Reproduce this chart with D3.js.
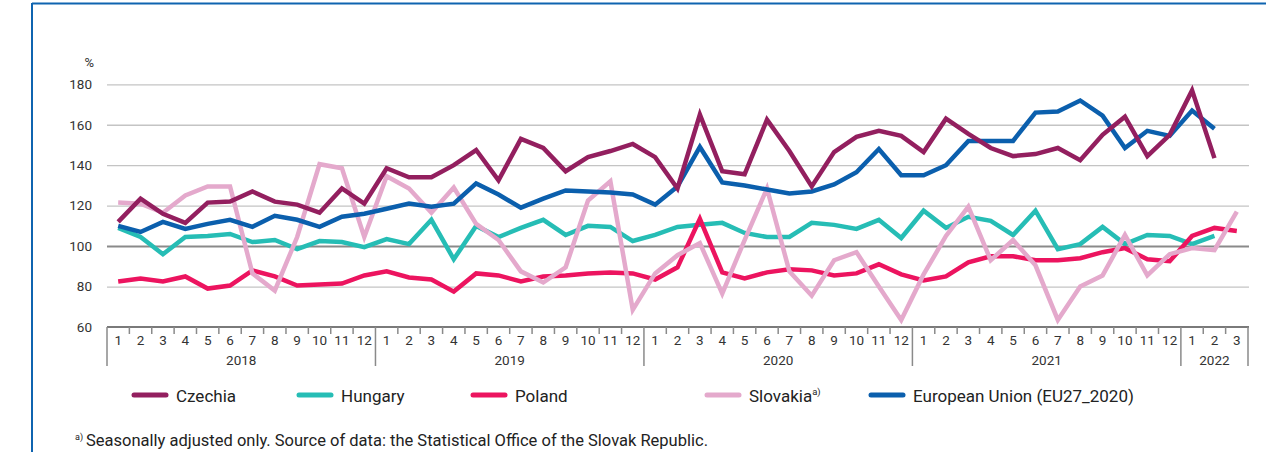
<!DOCTYPE html>
<html>
<head>
<meta charset="utf-8">
<script src="https://cdn.jsdelivr.net/npm/d3@7"></script>
<style>
  body { margin: 0; background: #fff; }
  svg { display: block; font-family: "Roboto", sans-serif; }
</style>
</head>
<body>
<svg width="1266" height="452"></svg>
<script>
// months covered: Jan 2018 .. Mar 2022
var years = [2018, 2019, 2020, 2021, 2022];
var monthsPerYear = [12, 12, 12, 12, 3];
var yTicks = [60, 80, 100, 120, 140, 160, 180];

var czechia = [112, 123.5, 116, 111.5, 121.5, 122, 127, 122, 120.5, 116.5, 128.5, 121,
               138.5, 134, 134, 140, 147.5, 132.5, 153, 148.5, 137, 144, 147, 150.5,
               144, 128.5, 165, 137, 135.5, 162.5, 147, 129.5, 146.5, 154, 157, 154.5,
               146.5, 163, 155.5, 148.5, 144.5, 145.5, 148.5, 142.5, 155, 164, 144.5, 155,
               177, 143.5, null];
var hungary = [109, 104.5, 96, 104.5, 105, 106, 102, 103, 98.5, 102.5, 102, 99.5,
               103.5, 101, 113, 93.5, 110, 104.5, 109, 113, 105.5, 110, 109.5, 102.5,
               105.5, 109.5, 110.5, 111.5, 106.5, 104.5, 104.5, 111.5, 110.5, 108.5, 113, 104,
               117.5, 109, 114.5, 112.5, 105.5, 117.5, 98.5, 101, 109.5, 101, 105.5, 105,
               101, 105, null];
var poland = [82.5, 84, 82.5, 85, 79, 80.5, 88, 85, 80.5, 81, 81.5, 85.5,
              87.5, 84.5, 83.5, 77.5, 86.5, 85.5, 82.5, 85, 85.5, 86.5, 87, 86.5,
              83.5, 89.5, 113.5, 87, 84, 87, 88.5, 88, 85.5, 86.5, 91, 86,
              83, 85, 92, 95, 95, 93, 93, 94, 97, 99, 93.5, 92.5,
              105, 109, 107.5];
var slovakia = [121.5, 121, 116.5, 125, 129.5, 129.5, 86.5, 78, 104.5, 140.5, 138.5, 104.5,
                134.5, 128.5, 116.5, 129, 111, 103, 87.5, 82, 89.5, 122.5, 132, 68.5,
                86.5, 95.5, 101.5, 76.5, 103, 128.5, 87.5, 75.5, 93, 97, 80, 63.5,
                86, 105, 119.5, 93, 103, 90.5, 63.5, 80, 85.5, 105.5, 85.5, 96,
                99, 98, 117];
var eu = [110, 107, 112, 108.5, 111, 113, 109.5, 115, 113, 109.5, 114.5, 116,
          118.5, 121, 119.5, 121, 131, 125.5, 119, 123.5, 127.5, 127, 126.5, 125.5,
          120.5, 129.5, 149, 131.5, 130, 128, 126, 127, 130.5, 136.5, 148, 135,
          135, 140, 152, 152, 152, 166, 166.5, 172, 164.5, 148.5, 157, 154.5,
          167, 158, null];

var series = [
  {name: "Hungary", values: hungary, color: "#26bdb5"},
  {name: "Poland", values: poland, color: "#ec145f"},
  {name: "Slovakia", values: slovakia, color: "#e4a9cc"},
  {name: "European Union (EU27_2020)", values: eu, color: "#0b5fad"},
  {name: "Czechia", values: czechia, color: "#931f5f"}
];
var legendOrder = ["Czechia", "Hungary", "Poland", "Slovakia", "European Union (EU27_2020)"];
var legendX = [132, 297, 471, 705, 869];

// build month list
var months = [];
years.forEach(function(yr, k) {
  for (var m = 1; m <= monthsPerYear[k]; m++) months.push({year: yr, month: m, idx: months.length});
});

var svg = d3.select("svg");

// frame
svg.append("line").attr("x1", 32).attr("x2", 1266).attr("y1", 3.5).attr("y2", 3.5)
    .attr("stroke", "#0f64b0").attr("stroke-width", 2);
svg.append("line").attr("x1", 32).attr("x2", 32).attr("y1", 3).attr("y2", 452)
    .attr("stroke", "#0f64b0").attr("stroke-width", 2);

var x = d3.scaleBand().domain(months.map(function(d) { return d.idx; })).range([107, 1248]).padding(0);
var y = d3.scaleLinear().domain([60, 180]).range([327, 84.3]);
var cx = function(i) { return x(i) + x.bandwidth() / 2; };

// gridlines
var grid = svg.append("g").attr("transform", "translate(107,0)")
    .call(d3.axisLeft(y).tickValues(yTicks.slice(1)).tickSize(-(1249 - 107)).tickFormat(""));
grid.select(".domain").remove();
grid.selectAll(".tick line")
    .attr("stroke", function(d) { return d === 100 ? "#8a8a8a" : "#c4c4c4"; })
    .attr("stroke-width", function(d) { return d === 100 ? 2 : 1.3; });

// y labels
var yAxis = svg.append("g").attr("transform", "translate(95,0)")
    .call(d3.axisLeft(y).tickValues(yTicks).tickSize(0).tickPadding(3));
yAxis.select(".domain").remove();
yAxis.selectAll("text").style("font-size", "13.5px").style("fill", "#333")
    .style("font-family", "Roboto, sans-serif");
svg.append("text").attr("x", 94).attr("y", 67).attr("text-anchor", "end")
    .style("font-size", "13px").style("fill", "#333").text("%");

// x axis
var xAxis = svg.append("g").attr("transform", "translate(0,327)")
    .call(d3.axisBottom(x).tickSize(0).tickPadding(8)
      .tickFormat(function(i) { return months[i].month; }));
xAxis.select(".domain").remove();
xAxis.selectAll("text").style("font-size", "13.5px").style("fill", "#333")
    .style("font-family", "Roboto, sans-serif");

svg.append("line").attr("x1", 107).attr("x2", 1249).attr("y1", 327).attr("y2", 327)
    .attr("stroke", "#7a7a7a").attr("stroke-width", 2);

// small ticks between months, long ones between years
svg.append("g").selectAll("line")
  .data(months.concat([{idx: months.length, month: 1}]))
  .enter().append("line")
    .attr("x1", function(d) { return d.idx < months.length ? x(d.idx) : x.range()[1]; })
    .attr("x2", function(d) { return d.idx < months.length ? x(d.idx) : x.range()[1]; })
    .attr("y1", 327)
    .attr("y2", function(d) { return d.month === 1 ? 366 : 334; })
    .attr("stroke", "#8a8a8a").attr("stroke-width", 1.5);

// year labels
svg.append("g").selectAll("text")
  .data(years)
  .enter().append("text")
    .attr("x", function(yr) {
      var ms = months.filter(function(d) { return d.year === yr; });
      return (x(ms[0].idx) + x(ms[ms.length - 1].idx) + x.bandwidth()) / 2;
    })
    .attr("y", 365)
    .attr("text-anchor", "middle")
    .style("font-size", "13.5px").style("fill", "#333")
    .text(function(yr) { return yr; });

// lines
var line = d3.line()
    .defined(function(d) { return d != null; })
    .x(function(d, i) { return cx(i); })
    .y(function(d) { return y(d); });

svg.append("g").selectAll("path")
  .data(series)
  .enter().append("path")
    .attr("d", function(s) { return line(s.values); })
    .attr("fill", "none")
    .attr("stroke", function(s) { return s.color; })
    .attr("stroke-width", 4.5);

// legend
var lg = svg.append("g").selectAll("g")
  .data(legendOrder)
  .enter().append("g")
    .attr("transform", function(d, i) { return "translate(" + legendX[i] + ",395)"; });
lg.append("line").attr("x1", 2).attr("x2", 34).attr("y1", 0).attr("y2", 0)
    .attr("stroke-linecap", "round").attr("stroke-width", 5)
    .attr("stroke", function(d) { return series.filter(function(s) { return s.name === d; })[0].color; });
var lt = lg.append("text").attr("x", 44).attr("y", 6.5)
    .style("font-size", "17px").style("fill", "#222")
    .text(function(d) { return d; });
lt.filter(function(d) { return d === "Slovakia"; })
  .append("tspan").attr("dy", -7).style("font-size", "9.5px").text("a)");

// footnote
var fn = svg.append("text").attr("x", 75).attr("y", 446).style("font-size", "16.5px").style("fill", "#222");
fn.append("tspan").attr("dy", -6).style("font-size", "9px").text("a)");
fn.append("tspan").attr("dy", 6).attr("dx", 3)
  .text("Seasonally adjusted only. Source of data: the Statistical Office of the Slovak Republic.");
</script>
</body>
</html>
